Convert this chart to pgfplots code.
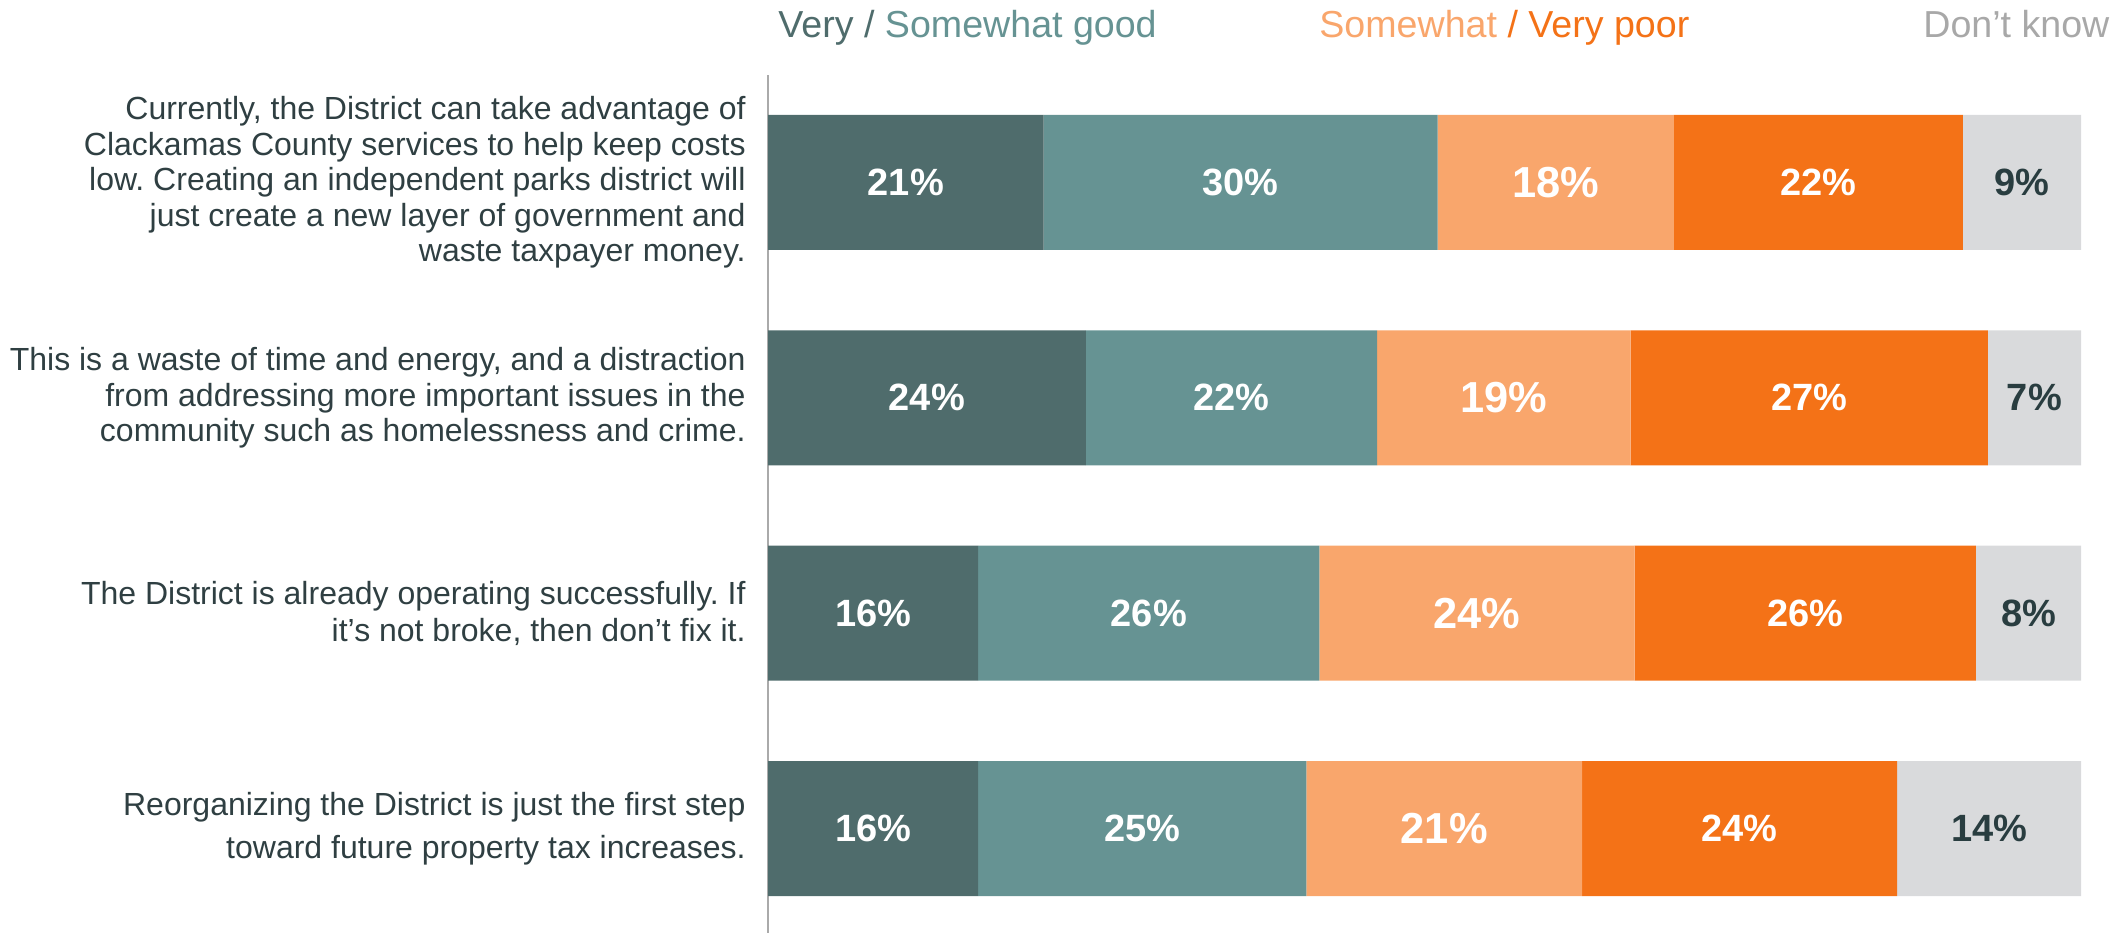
\documentclass[border=0pt]{standalone}
\usepackage{fontspec}
\setmainfont{Liberation Sans}
\usepackage{pgfplots}
\usepackage{pgfplotstable}
\pgfplotsset{compat=1.18}
\frenchspacing

\definecolor{vgood}{HTML}{4F6C6C}
\definecolor{sgood}{HTML}{669393}
\definecolor{spoor}{HTML}{F9A66C}
\definecolor{vpoor}{HTML}{F47217}
\definecolor{dknow}{HTML}{D9DADC}
\definecolor{dklegend}{HTML}{A8A8A8}
\definecolor{labtext}{HTML}{2F3F42}
\definecolor{darklab}{HTML}{293D40}
\definecolor{axisgrey}{HTML}{AAAAAA}

% row, bar lengths, printed labels
\pgfplotstableread{
row vg   sg   sp   vp   dk  lvg lsg lsp lvp ldk
0   21   30   18   22   9   21  30  18  22  9
1   24.2 22.2 19.3 27.2 7.1 24  22  19  27  7
2   16   26   24   26   8   16  26  24  26  8
3   16   25   21   24   14  16  25  21  24  14
}\survey

\begin{document}
\begin{tikzpicture}
\begin{axis}[
    at={(384pt,0pt)}, anchor=south west,
    scale only axis,
    width=656.5pt, height=429pt,
    xbar stacked,
    bar width=67.5pt,
    xmin=0, xmax=100,
    ymin=-0.499, ymax=3.485,
    y dir=reverse,
    hide x axis,
    axis y line*=left,
    y axis line style={draw=axisgrey, line width=1pt},
    ytick={0,1,2,3},
    major tick length=0pt,
    yticklabels={
        {Currently, the District can take advantage of\\Clackamas County services to help keep costs\\low. Creating an independent parks district will\\just create a new layer of government and\\waste taxpayer money.},
        {This is a waste of time and energy, and a distraction\\from addressing more important issues in the\\community such as homelessness and crime.},
        {The District is already operating successfully. If\\[1pt]it’s not broke, then don’t fix it.},
        {Reorganizing the District is just the first step\\[3.8pt]toward future property tax increases.}
    },
    yticklabel style={align=right, anchor=east, inner sep=0pt, xshift=-11pt,
        text=labtext, font=\fontsize{16}{17.7}\selectfont},
    point meta=explicit symbolic,
    nodes near coords={\pgfplotspointmeta\%},
    every node near coord/.append style={font=\bfseries\fontsize{19}{21}\selectfont, text=white},
]
\addplot[fill=vgood, draw=none] table[x=vg, y=row, meta=lvg] {\survey};
\addplot[fill=sgood, draw=none] table[x=sg, y=row, meta=lsg] {\survey};
\addplot[fill=spoor, draw=none,
    every node near coord/.append style={font=\bfseries\fontsize{21.7}{24}\selectfont}]
    table[x=sp, y=row, meta=lsp] {\survey};
\addplot[fill=vpoor, draw=none] table[x=vp, y=row, meta=lvp] {\survey};
\addplot[fill=dknow, draw=none,
    every node near coord/.append style={text=darklab}]
    table[x=dk, y=row, meta=ldk] {\survey};
\end{axis}

% header legend
\node[anchor=base west, font=\fontsize{18.8}{22}\selectfont, inner sep=0pt]
    at (389pt,447.5pt) {\textcolor{vgood}{Very /} \textcolor{sgood}{Somewhat good}};
\node[anchor=base west, font=\fontsize{18.8}{22}\selectfont, inner sep=0pt]
    at (659.5pt,447.5pt) {\textcolor{spoor}{Somewhat} \textcolor{vpoor}{/ Very poor}};
\node[anchor=base west, font=\fontsize{18.8}{22}\selectfont, inner sep=0pt, text=dklegend]
    at (961.5pt,447.5pt) {Don’t know};

\pgfresetboundingbox
\path[use as bounding box] (0,0) rectangle (1059.5pt,466.5pt);
\end{tikzpicture}
\end{document}
